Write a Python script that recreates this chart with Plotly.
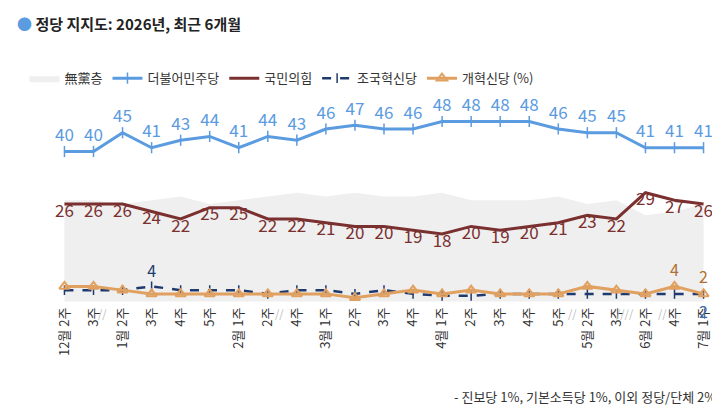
import plotly.graph_objs as go

# 조사 주차
weeks = ['12월 2주', '3주', '1월 2주', '3주', '4주', '5주', '2월 1주', '2주', '4주',
         '3월 1주', '2주', '3주', '4주', '4월 1주', '2주', '3주', '4주', '5주',
         '5월 2주', '3주', '6월 2주', '4주', '7월 1주']
x = list(range(len(weeks)))

minjoo   = [40, 40, 45, 41, 43, 44, 41, 44, 43, 46, 47, 46, 46, 48, 48, 48, 48, 46, 45, 45, 41, 41, 41]
gukmin   = [26, 26, 26, 24, 22, 25, 25, 22, 22, 21, 20, 20, 19, 18, 20, 19, 20, 21, 23, 22, 29, 27, 26]
josguk   = [3, 3, 3, 4, 3, 3, 3, 2, 3, 3, 2, 3, 2, 1.5, 1.5, 2, 2, 2, 2, 2, 2, 2, 2]
gaehyuk  = [4, 4, 3, 2, 2, 2, 2, 2, 2, 2, 1, 2, 3, 2, 3, 2, 2, 2, 4, 3, 2, 4, 2]
mudang   = [27, 27, 26, 27, 28, 26, 27, 28, 29, 28, 29, 28, 28, 29, 27, 27, 27, 28, 26, 27, 23, 24, 26]

FONT = 'Noto Sans CJK KR'


def lbl(vals, show):
    """보일 값만 문자열로"""
    return [str(v) if s else '' for v, s in zip(vals, show)]


fig = go.Figure()
fig.add_trace(go.Scatter(
    x=x, y=mudang, name='無黨층', mode='lines', fill='tozeroy',
    line=dict(color='rgba(0,0,0,0)'), fillcolor='#EFEFEF',
))
fig.add_trace(go.Scatter(
    x=x, y=minjoo, name='더불어민주당', mode='lines+markers+text',
    line=dict(color='#5B9BE0', width=3), marker=dict(symbol='line-ns', size=8,
    line=dict(color='#5B9BE0', width=1.5)),
    text=[str(v) for v in minjoo], textposition='top center',
    textfont=dict(color='#5B9BE0', size=17), cliponaxis=False,
))
fig.add_trace(go.Scatter(
    x=x, y=gukmin, name='국민의힘', mode='lines+text',
    line=dict(color='#7B3030', width=3),
    text=[str(v) for v in gukmin], textposition='bottom center',
    textfont=dict(color='#7B3030', size=17), cliponaxis=False,
))
fig.add_trace(go.Scatter(
    x=x, y=josguk, name='조국혁신당', mode='lines+markers+text',
    line=dict(color='#1F3A6E', width=2.5, dash='dash'),
    marker=dict(symbol='line-ns', size=7, line=dict(color='#1F3A6E', width=1.5)),
    text=lbl(josguk, [i == 3 for i in x]), textposition='top center',
    textfont=dict(color='#1F3A6E', size=16), cliponaxis=False,
))
fig.add_trace(go.Scatter(
    x=x, y=gaehyuk, name='개혁신당 (%)', mode='lines+markers+text',
    line=dict(color='#E0A060', width=3),
    marker=dict(symbol='triangle-up-open', size=9, color='#E0A060',
                line=dict(color='#E0A060', width=2)),
    text=lbl(gaehyuk, [i in (21, 22) for i in x]), textposition='top center',
    textfont=dict(color='#B07030', size=16), cliponaxis=False,
))
fig.add_annotation(x=22, y=josguk[-1], text='2', showarrow=False, yshift=-17,
                   font=dict(color='#3A6BB0', size=16))

for xb in [1.3, 7.4, 19.3, 20.6, 17.5]:  # 조사 공백 표시
    fig.add_annotation(x=xb, y=-0.5, text='//' if xb != 19.3 else '////', showarrow=False,
                       font=dict(color='#BBBBBB', size=11), yanchor='top')

fig.update_layout(
    width=720, height=412,
    paper_bgcolor='white', plot_bgcolor='white',
    font=dict(family=FONT, color='#333333'),
    margin=dict(l=55, r=23, t=85, b=116, autoexpand=False),
    showlegend=True,
    legend=dict(orientation='h', x=-0.06, y=1.07, xanchor='left', yanchor='middle',
                font=dict(size=13), bgcolor='rgba(0,0,0,0)'),
    xaxis=dict(tickvals=x, ticktext=weeks, tickangle=-90, range=[-0.05, 22.05],
               showgrid=False, zeroline=False, showline=False, automargin=False,
               tickfont=dict(size=13, color='#333333')),
    yaxis=dict(range=[-0.7, 55.6], visible=False, automargin=False),
)
fig.add_annotation(xref='paper', yref='paper', x=-0.075, y=1.33, xanchor='left',
                   yanchor='middle', showarrow=False,
                   text='<span style="color:#5B9BE0">●</span> <b>정당 지지도: 2026년, 최근 6개월</b>',
                   font=dict(size=15, color='#222222'))
fig.add_annotation(xref='paper', yref='paper', x=1.02, y=-0.44, xanchor='right',
                   yanchor='middle', showarrow=False,
                   text='- 진보당 1%, 기본소득당 1%, 이외 정당/단체 2%',
                   font=dict(size=13, color='#333333'))

fig.write_html("out.html")
